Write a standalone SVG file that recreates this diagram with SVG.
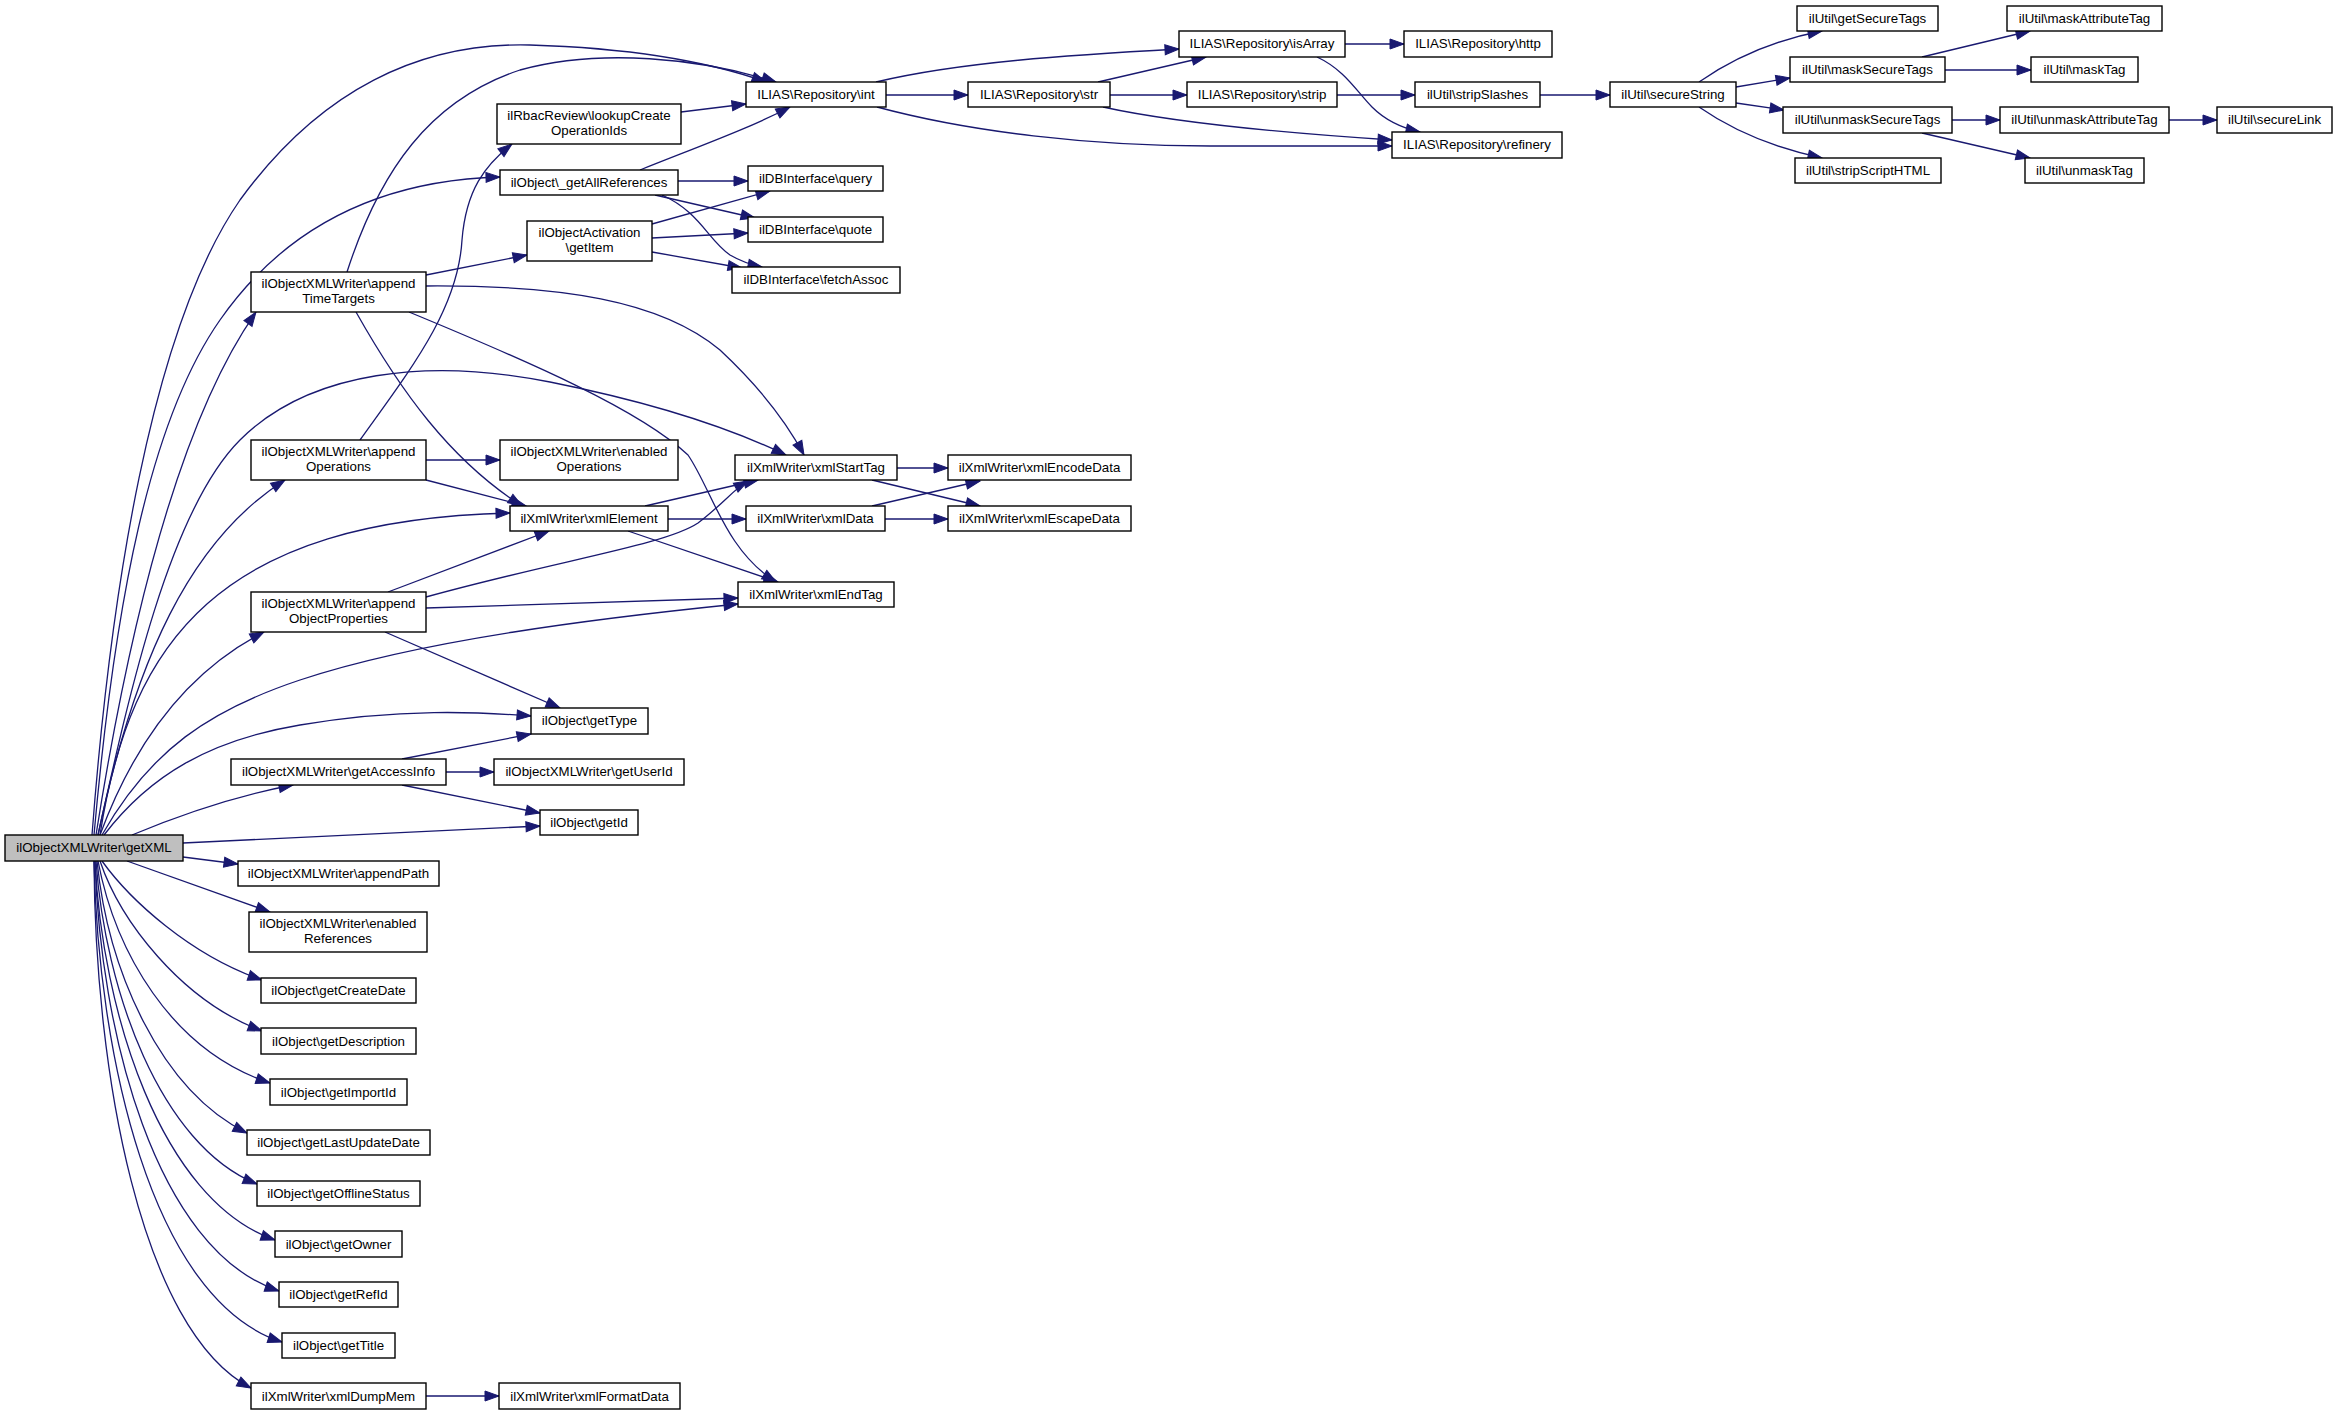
<svg xmlns="http://www.w3.org/2000/svg" width="2337" height="1415" viewBox="0 0 2337 1415">
<style>
.node rect{fill:#fff;stroke:#000;stroke-width:1.4}
.node.main rect{fill:#bfbfbf}
.node text{font-family:"Liberation Sans",Arial,Helvetica,sans-serif;font-size:13.3px;text-anchor:middle;fill:#000}
.edges path{fill:none;stroke:#191970;stroke-width:1.3;marker-end:url(#arr)}
</style>
<defs>
<marker id="arr" markerUnits="userSpaceOnUse" markerWidth="16" markerHeight="12" refX="14" refY="5" orient="auto" overflow="visible">
<path d="M0,0 L14,5 L0,10 z" fill="#191970" stroke="#191970" stroke-width="1"/>
</marker>
</defs>
<rect width="2337" height="1415" fill="#fff"/>
<g class="edges">
<path d="M92,835 C110,600 150,330 240,200 C320,90 420,42 530,45 C630,48 710,62 766,82"/>
<path d="M94,835 C115,600 150,420 220,320 C290,220 390,180 500,177"/>
<path d="M96,835 C130,620 180,420 256,312"/>
<path d="M98,835 C130,690 170,510 240,440 C310,370 430,358 550,382 C650,402 730,428 786,455"/>
<path d="M98,835 C135,660 190,540 285,480"/>
<path d="M100,835 C130,640 220,520 510,513"/>
<path d="M100,835 C135,740 190,670 264,632"/>
<path d="M102,835 C150,750 210,710 300,680 C420,640 600,618 738,604"/>
<path d="M104,835 C150,775 210,740 300,725 C400,708 480,712 531,716"/>
<path d="M132,835 C180,815 240,795 293,785"/>
<path d="M183,843 L540,826"/>
<path d="M183,857 L238,864"/>
<path d="M127,861 L270,912"/>
<path d="M102,861 C130,900 190,955 262,980"/>
<path d="M100,861 C120,920 180,1000 262,1031"/>
<path d="M98,861 C115,950 170,1050 270,1083"/>
<path d="M97,861 C108,970 160,1090 247,1133"/>
<path d="M96,861 C105,990 160,1145 257,1184"/>
<path d="M95,861 C102,1010 160,1200 275,1240"/>
<path d="M95,861 C100,1030 155,1250 279,1291"/>
<path d="M94,861 C98,1050 150,1300 282,1342"/>
<path d="M94,861 C95,1070 140,1330 251,1388"/>
<path d="M347,272 C380,170 430,100 520,70 C600,48 700,58 776,82"/>
<path d="M426,275 L527,255"/>
<path d="M426,286 C560,285 660,300 720,350 C765,392 788,425 804,455"/>
<path d="M356,312 C400,390 450,460 522,506"/>
<path d="M409,312 C530,362 640,410 688,455 C712,490 725,550 776,582"/>
<path d="M360,440 C410,370 458,310 462,240 C466,190 485,165 512,144"/>
<path d="M426,460 L500,460"/>
<path d="M426,480 L526,506"/>
<path d="M681,112 L746,104"/>
<path d="M640,170 C700,146 750,128 790,107"/>
<path d="M678,181 L748,181"/>
<path d="M655,195 L755,218"/>
<path d="M662,195 C700,212 708,240 730,255 C742,262 752,265 762,267"/>
<path d="M652,224 L770,191"/>
<path d="M652,238 L748,233"/>
<path d="M652,252 L742,268"/>
<path d="M876,82 C960,62 1070,55 1179,49"/>
<path d="M886,95 L968,95"/>
<path d="M877,107 C970,132 1090,146 1210,146 C1300,146 1360,146 1392,146"/>
<path d="M1098,82 L1206,57"/>
<path d="M1110,95 L1187,95"/>
<path d="M1103,107 C1180,124 1300,134 1392,140"/>
<path d="M1345,44 L1404,44"/>
<path d="M1317,57 C1345,70 1357,92 1372,107 C1386,121 1402,128 1420,132"/>
<path d="M1337,95 L1415,95"/>
<path d="M1540,95 L1610,95"/>
<path d="M1699,82 C1735,57 1775,40 1822,31"/>
<path d="M1736,87 L1790,78"/>
<path d="M1736,103 L1784,110"/>
<path d="M1699,107 C1735,132 1775,148 1822,158"/>
<path d="M1922,57 L2030,31"/>
<path d="M1945,70 L2031,70"/>
<path d="M1952,120 L2000,120"/>
<path d="M1922,133 L2030,158"/>
<path d="M2169,120 L2217,120"/>
<path d="M388,592 L549,531"/>
<path d="M426,597 C560,560 665,545 698,523 C722,505 735,488 748,481"/>
<path d="M426,608 L738,598"/>
<path d="M385,632 L560,708"/>
<path d="M645,506 L758,480"/>
<path d="M668,519 L746,519"/>
<path d="M628,531 L778,582"/>
<path d="M897,468 L948,468"/>
<path d="M872,480 L980,506"/>
<path d="M872,506 L980,481"/>
<path d="M885,519 L948,519"/>
<path d="M402,759 L531,734"/>
<path d="M446,772 L494,772"/>
<path d="M402,785 L540,813"/>
<path d="M426,1396 L499,1396"/>
</g>
<g id="n_getXML" class="node main"><rect x="5" y="835" width="178" height="26"/><text x="94" y="852">ilObjectXMLWriter\getXML</text></g>
<g id="n_int" class="node"><rect x="746" y="82" width="140" height="25"/><text x="816" y="99">ILIAS\Repository\int</text></g>
<g id="n_lookup" class="node"><rect x="497" y="104" width="184" height="40"/><text x="589" y="120">ilRbacReview\lookupCreate</text><text x="589" y="135">OperationIds</text></g>
<g id="n_getAllRefs" class="node"><rect x="500" y="170" width="178" height="25"/><text x="589" y="187">ilObject\_getAllReferences</text></g>
<g id="n_getItem" class="node"><rect x="527" y="221" width="125" height="40"/><text x="589.5" y="237">ilObjectActivation</text><text x="589.5" y="252">\getItem</text></g>
<g id="n_appendTT" class="node"><rect x="251" y="272" width="175" height="40"/><text x="338.5" y="288">ilObjectXMLWriter\append</text><text x="338.5" y="303">TimeTargets</text></g>
<g id="n_appendOps" class="node"><rect x="251" y="440" width="175" height="40"/><text x="338.5" y="456">ilObjectXMLWriter\append</text><text x="338.5" y="471">Operations</text></g>
<g id="n_enabledOps" class="node"><rect x="500" y="440" width="178" height="40"/><text x="589" y="456">ilObjectXMLWriter\enabled</text><text x="589" y="471">Operations</text></g>
<g id="n_query" class="node"><rect x="748" y="166" width="135" height="25"/><text x="815.5" y="183">ilDBInterface\query</text></g>
<g id="n_quote" class="node"><rect x="748" y="217" width="135" height="25"/><text x="815.5" y="234">ilDBInterface\quote</text></g>
<g id="n_fetchAssoc" class="node"><rect x="732" y="267" width="168" height="26"/><text x="816" y="284">ilDBInterface\fetchAssoc</text></g>
<g id="n_str" class="node"><rect x="968" y="82" width="142" height="25"/><text x="1039" y="99">ILIAS\Repository\str</text></g>
<g id="n_isArray" class="node"><rect x="1179" y="31" width="166" height="26"/><text x="1262" y="48">ILIAS\Repository\isArray</text></g>
<g id="n_strip" class="node"><rect x="1187" y="82" width="150" height="25"/><text x="1262" y="99">ILIAS\Repository\strip</text></g>
<g id="n_http" class="node"><rect x="1404" y="31" width="148" height="26"/><text x="1478" y="48">ILIAS\Repository\http</text></g>
<g id="n_stripSlashes" class="node"><rect x="1415" y="82" width="125" height="25"/><text x="1477.5" y="99">ilUtil\stripSlashes</text></g>
<g id="n_refinery" class="node"><rect x="1392" y="132" width="170" height="26"/><text x="1477" y="149">ILIAS\Repository\refinery</text></g>
<g id="n_secureString" class="node"><rect x="1610" y="82" width="126" height="25"/><text x="1673" y="99">ilUtil\secureString</text></g>
<g id="n_getSecureTags" class="node"><rect x="1797" y="6" width="141" height="25"/><text x="1867.5" y="23">ilUtil\getSecureTags</text></g>
<g id="n_maskSecureTags" class="node"><rect x="1790" y="57" width="155" height="25"/><text x="1867.5" y="74">ilUtil\maskSecureTags</text></g>
<g id="n_unmaskSecureTags" class="node"><rect x="1783" y="107" width="169" height="26"/><text x="1867.5" y="124">ilUtil\unmaskSecureTags</text></g>
<g id="n_stripScriptHTML" class="node"><rect x="1795" y="158" width="146" height="25"/><text x="1868" y="175">ilUtil\stripScriptHTML</text></g>
<g id="n_maskAttributeTag" class="node"><rect x="2007" y="6" width="155" height="25"/><text x="2084.5" y="23">ilUtil\maskAttributeTag</text></g>
<g id="n_maskTag" class="node"><rect x="2031" y="57" width="107" height="25"/><text x="2084.5" y="74">ilUtil\maskTag</text></g>
<g id="n_unmaskAttributeTag" class="node"><rect x="2000" y="107" width="169" height="26"/><text x="2084.5" y="124">ilUtil\unmaskAttributeTag</text></g>
<g id="n_secureLink" class="node"><rect x="2217" y="107" width="115" height="26"/><text x="2274.5" y="124">ilUtil\secureLink</text></g>
<g id="n_unmaskTag" class="node"><rect x="2025" y="158" width="119" height="25"/><text x="2084.5" y="175">ilUtil\unmaskTag</text></g>
<g id="n_xmlStartTag" class="node"><rect x="735" y="455" width="162" height="25"/><text x="816" y="472">ilXmlWriter\xmlStartTag</text></g>
<g id="n_xmlEncodeData" class="node"><rect x="948" y="455" width="183" height="25"/><text x="1039.5" y="472">ilXmlWriter\xmlEncodeData</text></g>
<g id="n_xmlEscapeData" class="node"><rect x="948" y="506" width="183" height="25"/><text x="1039.5" y="523">ilXmlWriter\xmlEscapeData</text></g>
<g id="n_xmlData" class="node"><rect x="746" y="506" width="139" height="25"/><text x="815.5" y="523">ilXmlWriter\xmlData</text></g>
<g id="n_xmlEndTag" class="node"><rect x="738" y="582" width="156" height="25"/><text x="816" y="599">ilXmlWriter\xmlEndTag</text></g>
<g id="n_xmlElement" class="node"><rect x="510" y="506" width="158" height="25"/><text x="589" y="523">ilXmlWriter\xmlElement</text></g>
<g id="n_appendOP" class="node"><rect x="251" y="592" width="175" height="40"/><text x="338.5" y="608">ilObjectXMLWriter\append</text><text x="338.5" y="623">ObjectProperties</text></g>
<g id="n_getType" class="node"><rect x="531" y="708" width="117" height="26"/><text x="589.5" y="725">ilObject\getType</text></g>
<g id="n_getAccessInfo" class="node"><rect x="231" y="759" width="215" height="26"/><text x="338.5" y="776">ilObjectXMLWriter\getAccessInfo</text></g>
<g id="n_getUserId" class="node"><rect x="494" y="759" width="190" height="26"/><text x="589" y="776">ilObjectXMLWriter\getUserId</text></g>
<g id="n_getId" class="node"><rect x="540" y="810" width="98" height="25"/><text x="589" y="827">ilObject\getId</text></g>
<g id="n_appendPath" class="node"><rect x="238" y="861" width="201" height="25"/><text x="338.5" y="878">ilObjectXMLWriter\appendPath</text></g>
<g id="n_enabledRefs" class="node"><rect x="249" y="912" width="178" height="40"/><text x="338" y="928">ilObjectXMLWriter\enabled</text><text x="338" y="943">References</text></g>
<g id="n_getCreateDate" class="node"><rect x="261" y="978" width="155" height="25"/><text x="338.5" y="995">ilObject\getCreateDate</text></g>
<g id="n_getDescription" class="node"><rect x="261" y="1028" width="155" height="26"/><text x="338.5" y="1046">ilObject\getDescription</text></g>
<g id="n_getImportId" class="node"><rect x="270" y="1079" width="137" height="26"/><text x="338.5" y="1097">ilObject\getImportId</text></g>
<g id="n_getLastUpdateDate" class="node"><rect x="247" y="1130" width="183" height="25"/><text x="338.5" y="1147">ilObject\getLastUpdateDate</text></g>
<g id="n_getOfflineStatus" class="node"><rect x="257" y="1181" width="163" height="25"/><text x="338.5" y="1198">ilObject\getOfflineStatus</text></g>
<g id="n_getOwner" class="node"><rect x="275" y="1231" width="127" height="26"/><text x="338.5" y="1249">ilObject\getOwner</text></g>
<g id="n_getRefId" class="node"><rect x="279" y="1282" width="119" height="25"/><text x="338.5" y="1299">ilObject\getRefId</text></g>
<g id="n_getTitle" class="node"><rect x="282" y="1333" width="113" height="25"/><text x="338.5" y="1350">ilObject\getTitle</text></g>
<g id="n_xmlDumpMem" class="node"><rect x="251" y="1383" width="175" height="26"/><text x="338.5" y="1401">ilXmlWriter\xmlDumpMem</text></g>
<g id="n_xmlFormatData" class="node"><rect x="499" y="1383" width="181" height="26"/><text x="589.5" y="1401">ilXmlWriter\xmlFormatData</text></g>
</svg>
